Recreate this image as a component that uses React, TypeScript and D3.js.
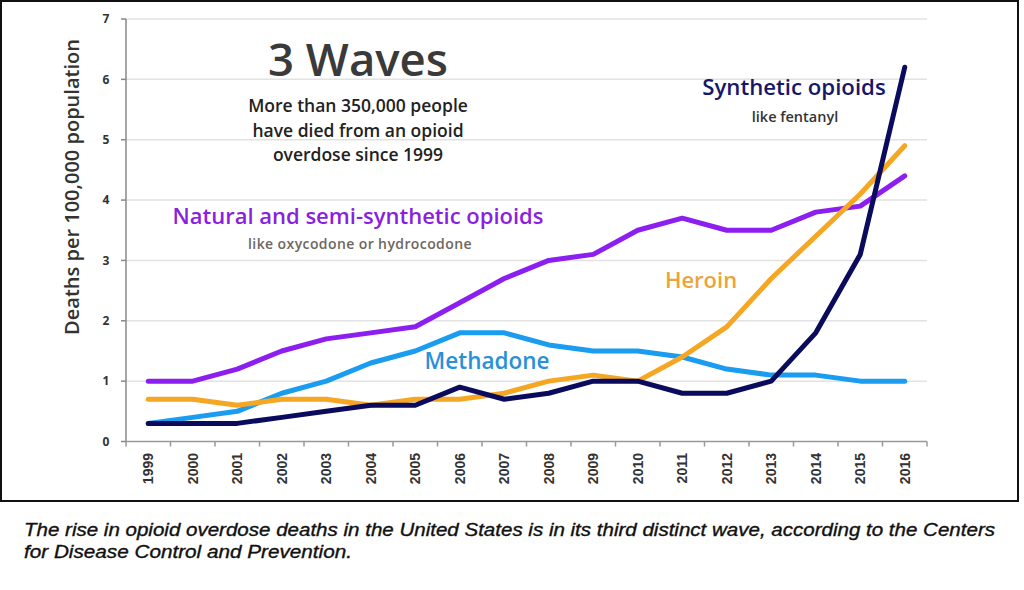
import React from "react";
import * as d3 from "d3";

const years = ["1999","2000","2001","2002","2003","2004","2005","2006","2007","2008","2009","2010","2011","2012","2013","2014","2015","2016"];
const naturalSemi = [1.0,1.0,1.2,1.5,1.7,1.8,1.9,2.3,2.7,3.0,3.1,3.5,3.7,3.5,3.5,3.8,3.9,4.4];
const methadone = [0.3,0.4,0.5,0.8,1.0,1.3,1.5,1.8,1.8,1.6,1.5,1.5,1.4,1.2,1.1,1.1,1.0,1.0];
const heroin = [0.7,0.7,0.6,0.7,0.7,0.6,0.7,0.7,0.8,1.0,1.1,1.0,1.4,1.9,2.7,3.4,4.1,4.9];
const synthetic = [0.3,0.3,0.3,0.4,0.5,0.6,0.6,0.9,0.7,0.8,1.0,1.0,0.8,0.8,1.0,1.8,3.1,6.2];
const yTicks = [0,1,2,3,4,5,6,7];

const seriesList = [
  { name: "Methadone", values: methadone, color: "#1a9cf0" },
  { name: "Natural", values: naturalSemi, color: "#8c1ef0" },
  { name: "Heroin", values: heroin, color: "#f5a623" },
  { name: "Synthetic", values: synthetic, color: "#0b0b5e" },
];

const FONT = "'Open Sans', Lato, sans-serif";

export default function App() {
  const left = 126, right = 927, top = 19, bottom = 441.5;
  const x = d3.scaleBand<string>().domain(years).range([left, right]);
  const y = d3.scaleLinear().domain([0, 7]).range([bottom, top]);
  const line = d3.line<number>()
    .x((_, i) => (x(years[i]) as number) + x.bandwidth() / 2)
    .y((d) => y(d));
  const boundaries = years.map((yr) => x(yr) as number).concat([right]);

  return (
    <svg width={1024} height={590} style={{ position: "absolute", left: 0, top: 0, background: "#fff" }}>
      <rect x={0} y={0} width={1024} height={590} fill="#fff" />
      <rect x={1} y={1} width={1017} height={500} fill="none" stroke="#111" strokeWidth={2} />
      {yTicks.filter((t) => t > 0).map((t) => (
        <line key={t} x1={left} x2={right} y1={y(t)} y2={y(t)} stroke="#e2e2e2" strokeWidth={1.5} />
      ))}
      <line x1={left} x2={left} y1={top} y2={bottom} stroke="#888" strokeWidth={1.5} />
      <line x1={left} x2={right} y1={bottom} y2={bottom} stroke="#999" strokeWidth={1.5} />
      {yTicks.map((t) => (
        <g key={t}>
          <line x1={left - 5} x2={left} y1={y(t)} y2={y(t)} stroke="#888" strokeWidth={1.5} />
          <text x={106} y={y(t)} dy="0.35em" textAnchor="middle" fontFamily={FONT} fontWeight="bold" fontSize={12} fill="#333">{t}</text>
        </g>
      ))}
      {boundaries.map((b, i) => (
        <line key={i} x1={b} x2={b} y1={bottom} y2={bottom + 5} stroke="#999" strokeWidth={1.5} />
      ))}
      {years.map((yr) => {
        const cx = (x(yr) as number) + x.bandwidth() / 2;
        return (
          <text key={yr} transform={`translate(${cx},453) rotate(-90)`} textAnchor="end" dy="0.35em"
            fontFamily="'Liberation Sans', Arial, sans-serif" fontWeight="bold" fontSize={14} fill="#333">{yr}</text>
        );
      })}
      <text transform="translate(72,187) rotate(-90)" textAnchor="middle" dy="0.35em" fontFamily={FONT} fontWeight={600} fontSize={20} fill="#333">Deaths per 100,000 population</text>

      {seriesList.map((s) => (
        <path key={s.name} d={line(s.values) as string} fill="none" stroke={s.color} strokeWidth={5} strokeLinejoin="round" strokeLinecap="round" />
      ))}

      <text x={358} y={76} textAnchor="middle" fontFamily={FONT} fontWeight={600} fontSize={45.5} fill="#3a3a3a">3 Waves</text>
      {["More than 350,000 people", "have died from an opioid", "overdose since 1999"].map((s, i) => (
        <text key={i} x={358} y={106 + i * 24.5} dy="0.35em" textAnchor="middle" fontFamily={FONT} fontWeight={600} fontSize={17.5} fill="#222">{s}</text>
      ))}
      <text x={358} y={216} dy="0.35em" textAnchor="middle" fontFamily={FONT} fontWeight={600} fontSize={22} fill="#8a1fe0">Natural and semi-synthetic opioids</text>
      <text x={360} y={244} dy="0.35em" textAnchor="middle" fontFamily={FONT} fontWeight={600} fontSize={14} letterSpacing={0.4} fill="#6e6660">like oxycodone or hydrocodone</text>
      <text x={794} y={87} dy="0.35em" textAnchor="middle" fontFamily={FONT} fontWeight={600} fontSize={22.2} fill="#16166a">Synthetic opioids</text>
      <text x={795} y={117} dy="0.35em" textAnchor="middle" fontFamily={FONT} fontWeight={600} fontSize={14.5} fill="#333">like fentanyl</text>
      <text x={701} y={280} dy="0.35em" textAnchor="middle" fontFamily={FONT} fontWeight={600} fontSize={22} fill="#eba43a">Heroin</text>
      <text x={487} y={361} dy="0.35em" textAnchor="middle" fontFamily={FONT} fontWeight={600} fontSize={22.5} fill="#2a90d8">Methadone</text>

      <text x={24} y={536} textLength={971} lengthAdjust="spacingAndGlyphs" fontFamily="'Liberation Sans', Arial, sans-serif" fontStyle="italic" fontSize={17.5} stroke="#111" strokeWidth={0.35} fill="#111">The rise in opioid overdose deaths in the United States is in its third distinct wave, according to the Centers</text>
      <text x={24} y={558} textLength={328} lengthAdjust="spacingAndGlyphs" fontFamily="'Liberation Sans', Arial, sans-serif" fontStyle="italic" fontSize={17.5} stroke="#111" strokeWidth={0.35} fill="#111">for Disease Control and Prevention.</text>
    </svg>
  );
}
